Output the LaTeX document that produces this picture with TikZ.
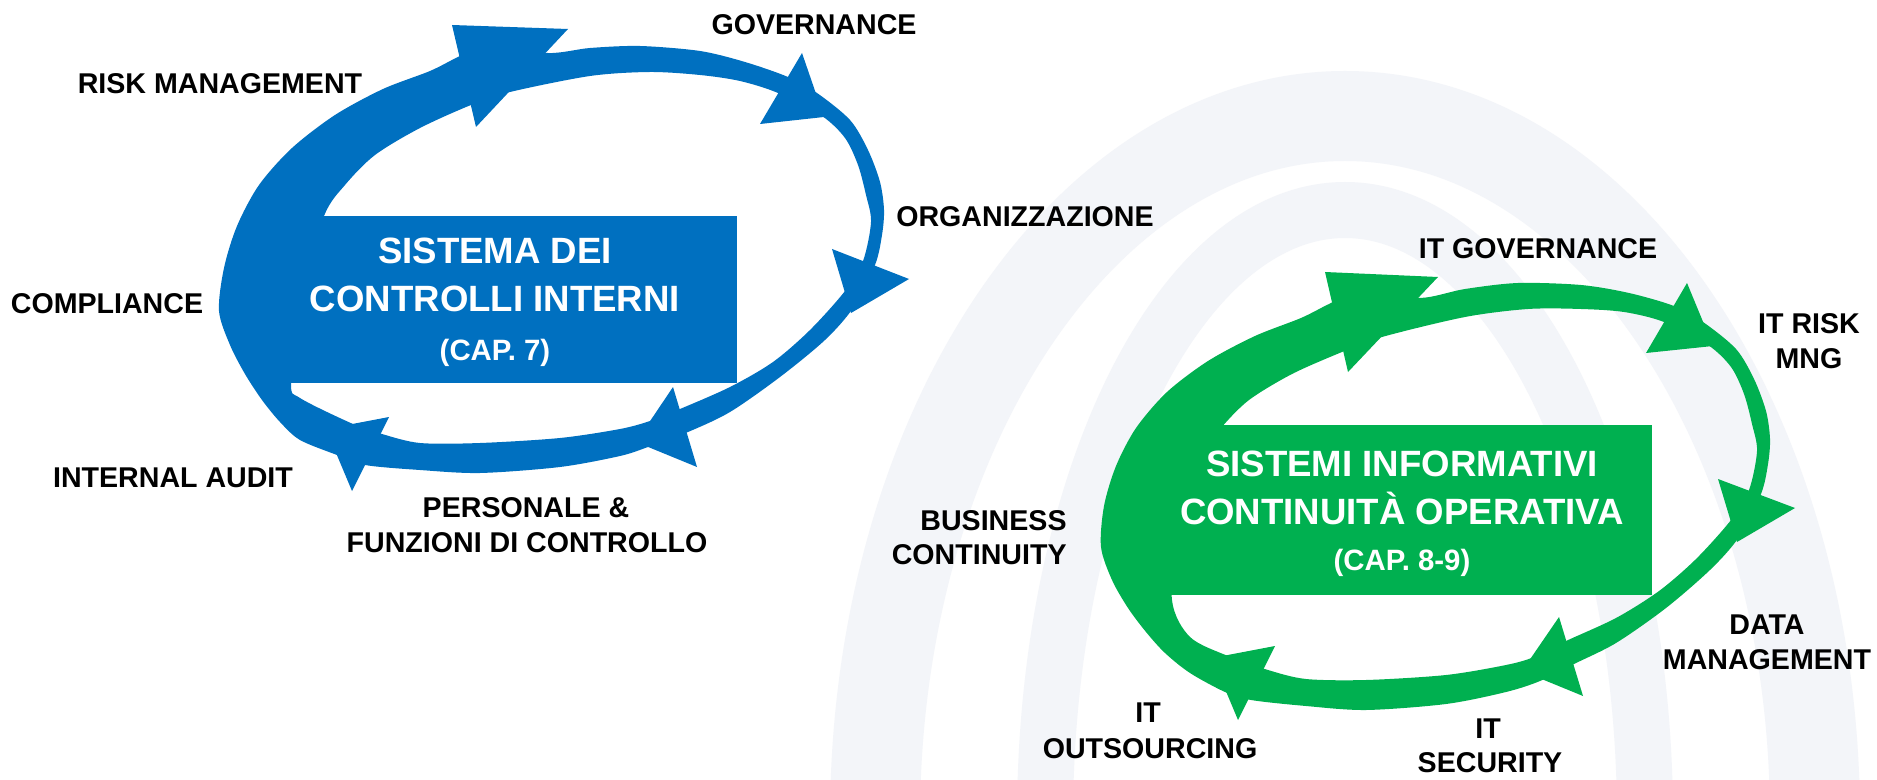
\documentclass[tikz,border=0pt]{standalone}
\usepackage{fontspec}
\setmainfont{Liberation Sans}
\begin{document}
\begin{tikzpicture}[x=0.5pt,y=-0.5pt,
  lbl/.style={font=\bfseries\fontsize{14.3}{17}\selectfont, inner sep=0pt, anchor=base},
  ttl/.style={font=\bfseries\fontsize{18.3}{22}\selectfont, text=white, inner sep=0pt, anchor=base},
  capt/.style={font=\bfseries\fontsize{14.7}{17}\selectfont, text=white, inner sep=0pt, anchor=base},
  ring/.style={even odd rule},
]
\definecolor{bblue}{RGB}{0,112,192}
\definecolor{ggreen}{RGB}{0,176,80}
\definecolor{wm}{RGB}{243,245,249}
\useasboundingbox (0,0) rectangle (1877,780);
\fill[white] (0,0) rectangle (1877,780);

% faint watermark
\draw[wm, line width=45pt] (875,820) arc[start angle=180, end angle=0, x radius=235pt, y radius=352pt];
\draw[wm, line width=28pt] (1045,820) arc[start angle=180, end angle=0, x radius=150pt, y radius=305pt];

% ===== blue ring =====
\fill[bblue, ring]
 plot[smooth cycle] coordinates {(219,311) (224,268) (237,226) (259,185) (292,148) (335,115) (383,89) (430,71) (458,57) (490,43)
   (547,53) (590,48) (640,46) (700,51) (745,62) (788,77) (817,93) (850,120) (868,150) (880,182) (884,210) (882,235) (875,265)
   (853,308) (825,340) (780,377) (730,412) (688,432) (648,447) (620,456) (560,467) (480,473) (420,470) (365,465)
   (337,455) (300,440) (280,422) (262,400) (245,374) (230,345)}
 plot[smooth cycle] coordinates {(291,383) (298,300) (324,216) (345,185) (375,155) (420,128) (471,105) (510,92) (590,76)
   (650,72) (700,75) (740,81) (778,93) (822,116) (845,138) (858,165) (866,195) (871,222) (863,261) (845,291) (810,330)
   (773,362) (730,387) (680,409) (650,421) (620,429) (560,438) (480,443) (420,443) (382,434) (353,424) (300,398)};
\fill[bblue] (275,216) rectangle (737,383);
\fill[bblue] (452,25) -- (568,29) -- (476,127) -- cycle;
\fill[bblue] (802,53) -- (760,124) -- (824,117) -- cycle;
\fill[bblue] (832,249) -- (909,279) -- (851,313) -- cycle;
\fill[bblue] (673,387) -- (697,467) -- (636,442) -- cycle;
\fill[bblue] (389,417) -- (352,491) -- (326,429) -- cycle;

\node[ttl] (bt1) at (495,264) {SISTEMA DEI};
\node[ttl] (bt2) at (495,312) {CONTROLLI INTERNI};
\node[capt] (bt3) at (495,360) {(CAP. 7)};

% ===== green ring =====
\fill[ggreen, ring]
 plot[smooth cycle] coordinates {(1101,547) (1104,506) (1116,466) (1136,428) (1167,392) (1208,361) (1255,336) (1301,318) (1329,304) (1361,290)
   (1419,298) (1465,289) (1518,283) (1581,285) (1629,293) (1674,306) (1703,322) (1736,349) (1754,379) (1766,411) (1770,439) (1768,464) (1761,494)
   (1739,537) (1711,569) (1666,608) (1616,643) (1574,664) (1540,681) (1506,692) (1446,704) (1366,710) (1306,706) (1251,700)
   (1225,692) (1190,673) (1165,653) (1146,632) (1128,608) (1112,580)}
 plot[smooth cycle] coordinates {(1172,600) (1176,520) (1202,456) (1221,428) (1249,400) (1292,374) (1342,352) (1382,337) (1465,317)
   (1528,309) (1581,309) (1624,312) (1664,322) (1708,345) (1731,367) (1744,394) (1752,424) (1757,451) (1749,490) (1731,520) (1696,559)
   (1659,591) (1616,618) (1566,641) (1534,657) (1506,665) (1446,675) (1366,680) (1306,679) (1268,670) (1228,656) (1190,637)};
\fill[ggreen] (1160,425) rectangle (1652,595);
\fill[ggreen] (1325,272) -- (1438,277) -- (1348,372) -- cycle;
\fill[ggreen] (1687,283) -- (1646,353) -- (1713,346) -- cycle;
\fill[ggreen] (1718,479) -- (1795,508) -- (1737,542) -- cycle;
\fill[ggreen] (1559,617) -- (1583,696) -- (1522,671) -- cycle;
\fill[ggreen] (1275,646) -- (1238,720) -- (1212,658) -- cycle;

\node[ttl] (gt1) at (1402,476) {SISTEMI INFORMATIVI};
\node[ttl] (gt2) at (1402,524) {CONTINUITÀ OPERATIVA};
\node[capt] (gt3) at (1402,570) {(CAP. 8-9)};

% ===== labels =====
\node[lbl] (gov) at (814,35) {GOVERNANCE};
\node[lbl] (risk) at (220,94) {RISK MANAGEMENT};
\node[lbl] (org) at (1025,227) {ORGANIZZAZIONE};
\node[lbl] (comp) at (107,314) {COMPLIANCE};
\node[lbl] (ia) at (173,487) {INTERNAL AUDIT};
\node[lbl] (pers1) at (526,517) {PERSONALE \&};
\node[lbl] (pers2) at (527,552) {FUNZIONI DI CONTROLLO};

\node[lbl] (itgov) at (1538,259) {IT GOVERNANCE};
\node[lbl] (itr1) at (1809,334) {IT RISK};
\node[lbl] (itr2) at (1809,368) {MNG};
\node[lbl] (dm1) at (1767,634) {DATA};
\node[lbl] (dm2) at (1767,669) {MANAGEMENT};
\node[lbl, anchor=base east] (bc1) at (1067,530) {BUSINESS};
\node[lbl, anchor=base east] (bc2) at (1067,564) {CONTINUITY};
\node[lbl] (ito1) at (1148,722) {IT};
\node[lbl] (ito2) at (1150,758) {OUTSOURCING};
\node[lbl] (its1) at (1488,738) {IT};
\node[lbl] (its2) at (1490,772) {SECURITY};
\end{tikzpicture}
\end{document}
